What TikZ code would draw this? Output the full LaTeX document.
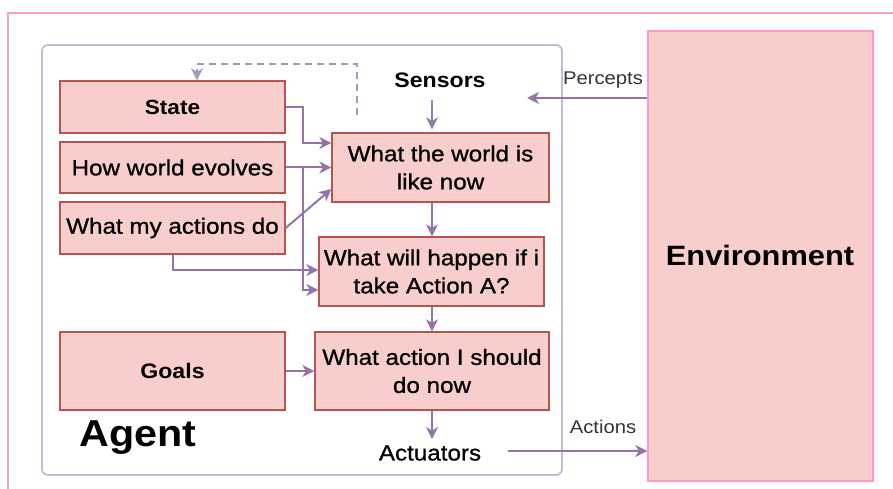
\documentclass[tikz,border=0pt]{standalone}
\usepackage{fontspec}
\setmainfont{Liberation Sans}[FakeStretch=1.1]
\newfontfamily\medfont{Liberation Sans}[FakeStretch=1.1,FakeBold=0.9]
\usetikzlibrary{arrows.meta,calc}
\definecolor{boxfill}{HTML}{F8CECC}
\definecolor{boxline}{HTML}{B85450}
\definecolor{envline}{HTML}{FF99CC}
\definecolor{frameline}{HTML}{F5A3B8}
\definecolor{agentline}{HTML}{BDBDD6}
\definecolor{arrcol}{HTML}{9673A6}
\definecolor{senscol}{HTML}{8484AE}
\definecolor{dashcol}{HTML}{9C9CC0}
\definecolor{labcol}{HTML}{333333}
\tikzset{
  x=1pt,y=-1pt,
  blk/.style={draw=boxline,fill=boxfill,line width=1.3pt,inner sep=0pt,align=center,
    font=\medfont\fontsize{22}{28}\selectfont},
  arr/.style={draw=arrcol,line width=2pt,-{Stealth[length=12pt,width=12pt,inset=3.5pt]}},
  lbl/.style={inner sep=0pt,text=labcol,font=\fontsize{18.4}{22}\selectfont},
}
\begin{document}
\begin{tikzpicture}
\useasboundingbox (0,0) rectangle (893,489);
% outer frame
\draw[frameline,line width=1.2pt] (893,13) -- (8,13) -- (8,489);
% agent
\draw[agentline,line width=1.8pt,rounded corners=6pt] (42,45) rectangle (562,475);
% environment
\node[draw=envline,fill=boxfill,line width=1.4pt,minimum width=225pt,minimum height=450pt,inner sep=0pt] (env) at (760.5,256) {};
\node[inner sep=0pt,font=\fontsize{28}{32}\selectfont\bfseries] (envlab) at (760,255) {Environment};
% left boxes
\node[blk,minimum width=225pt,minimum height=52pt,font=\fontsize{20.5}{26}\selectfont\bfseries] (state) at (172.5,107) {State};
\node[blk,minimum width=225pt,minimum height=51pt] (evolve) at (172.5,167.5) {How world evolves};
\node[blk,minimum width=225pt,minimum height=52pt] (actdo) at (172.5,228) {What my actions do};
\node[blk,minimum width=225pt,minimum height=78pt,font=\fontsize{21}{26}\selectfont\bfseries] (goals) at (172.5,371) {Goals};
% right boxes
\node[blk,minimum width=217pt,minimum height=69pt] (now) at (440.5,167.5) {What the world is\\like now};
\node[blk,minimum width=225pt,minimum height=69pt] (happen) at (431.5,271.5) {What will happen if i\\take Action A?};
\node[blk,minimum width=234pt,minimum height=78pt] (should) at (432,371) {What action I should\\do now};
% texts
\node[inner sep=0pt,font=\fontsize{21}{26}\selectfont\bfseries] (sensors) at (440,80) {Sensors};
\node[inner sep=0pt,font=\medfont\fontsize{22}{26}\selectfont] (actuators) at (430,453) {Actuators};
\node[inner sep=0pt,font=\fontsize{37.5}{40}\selectfont\bfseries] (agent) at (138,438) {Agent};
\node[lbl] (perclab) at (603,80) {Percepts};
\node[lbl] (actlab) at (603,427) {Actions};
% coordinates
\coordinate (cx) at (432,0);
\coordinate (sensend) at (432,100);
\coordinate (dstart) at (357,115);
\coordinate (percend) at (527,98);
\coordinate (actstart) at (508,451);
% connectors
\draw[arr,draw=senscol] (sensend) -- ([yshift=3pt]now.north -| cx);
\draw[arr] (now.south -| cx) -- (happen.north -| cx);
\draw[arr] (happen.south -| cx) -- (should.north -| cx);
\draw[arr] (should.south -| cx) -- ([yshift=6pt]actuators.north -| cx);
\draw[arr] (state.east) -- ++(17,0) |- ([yshift=24.5pt]now.west);
\draw[arr] (evolve.east) -- (now.west);
\draw[arr] (evolve.east) ++(17,0) |- ([yshift=-18.5pt]happen.west);
\draw[arr] (actdo.east) -- ([yshift=-21.5pt]now.west);
\draw[arr] (actdo.south) |- ([yshift=1.5pt]happen.west);
\draw[arr] (goals.east) -- (should.west);
\draw[arr,draw=dashcol,dash pattern=on 7pt off 5pt] (dstart) -- (357,64) -| ([xshift=24.5pt]state.north);
\draw[arr] ([yshift=158pt]env.west) -- (percend);
\draw[arr] (actstart) -- ([yshift=-195pt]env.west);
\end{tikzpicture}
\end{document}
